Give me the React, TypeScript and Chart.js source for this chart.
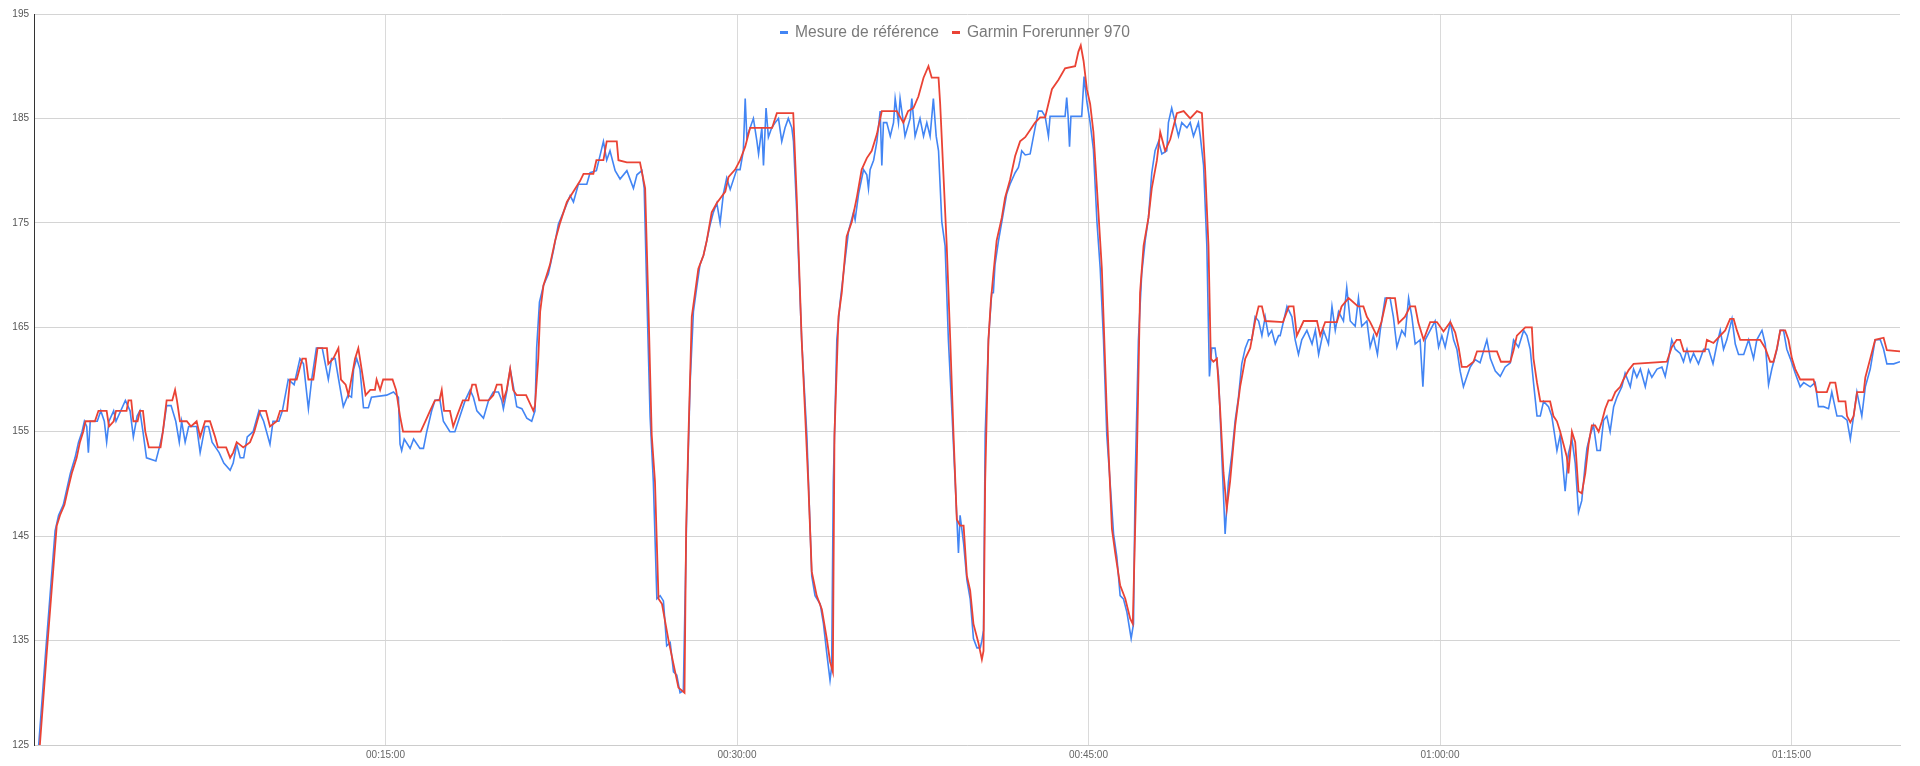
import React, { useEffect, useRef } from 'react';
import { Chart, registerables } from 'chart.js';

Chart.register(...registerables);

// Temps écoulé (minutes) et fréquence cardiaque (bpm)
const referenceMinutes = [
  0.2, 0.5, 0.9, 1.05, 1.25, 1.4, 1.55, 1.75, 1.9, 2.05, 2.15, 2.25, 2.32, 2.4, 2.7, 2.85, 3.0, 3.1, 3.2, 3.4,
  3.5, 3.9, 4.1, 4.24, 4.4, 4.52, 4.65, 4.8, 5.2, 5.35, 5.5, 5.66, 5.85, 6.05, 6.2, 6.3, 6.45, 6.6, 6.94, 7.09,
  7.3, 7.45, 7.6, 7.9, 8.1, 8.37, 8.5, 8.65, 8.8, 8.95, 9.1, 9.35, 9.6, 9.8, 10.07, 10.2, 10.45, 10.6, 10.85, 11.1,
  11.35, 11.5, 11.71, 11.85, 12.05, 12.3, 12.56, 12.7, 12.85, 13.0, 13.2, 13.4,
  13.55, 13.64, 13.77, 13.91, 14.06, 14.27, 14.4, 15.05, 15.34, 15.55, 15.62, 15.69, 15.8, 16.05, 16.2, 16.47, 16.62, 16.76,
  16.97, 17.11, 17.32, 17.47, 17.75, 17.96, 18.18, 18.4, 18.61, 18.75, 18.9, 19.18, 19.4, 19.6, 19.82, 19.96, 20.03, 20.17,
  20.32, 20.46, 20.6, 20.82, 21.03, 21.24, 21.38, 21.45, 21.57, 21.74, 21.95, 22.17, 22.38, 22.59, 22.88, 23.02, 23.23, 23.59,
  23.73, 24.0, 24.3, 24.44, 24.58, 24.8, 25.01, 25.3, 25.58, 25.73, 25.94, 26.04, 26.15, 26.29, 26.43, 26.58,
  26.72, 26.86, 27.0, 27.15, 27.29, 27.43, 27.57, 27.71, 27.86, 28.0, 28.14, 28.28, 28.42, 28.57, 28.71, 28.85, 28.99, 29.14,
  29.28, 29.42, 29.56, 29.71, 29.99, 30.13, 30.27, 30.35, 30.42, 30.56, 30.7, 30.85, 30.92, 31.06, 31.13, 31.24, 31.34, 31.48,
  31.63, 31.77, 31.91, 32.05, 32.19, 32.34, 32.41, 32.55, 32.76, 32.98, 33.12, 33.19, 33.33, 33.55, 33.69, 33.83, 33.97, 34.04,
  34.11, 34.26, 34.4, 34.54, 34.76, 34.97, 35.04, 35.19, 35.4, 35.54, 35.61, 35.68, 35.83, 35.97, 36.11, 36.18, 36.25, 36.39,
  36.54, 36.68, 36.75, 36.89, 36.96, 37.1, 37.17, 37.39, 37.46, 37.6, 37.81, 37.96, 38.1, 38.24, 38.38, 38.5, 38.6, 38.74,
  38.88, 39.02, 39.17, 39.31, 39.45, 39.52,
  39.67, 39.81, 39.95, 40.09, 40.24, 40.38, 40.45, 40.52, 40.59, 40.73, 40.87, 40.94, 41.01, 41.16, 41.3, 41.37, 41.51, 41.65,
  41.87, 42.01, 42.08, 42.15, 42.3, 42.51, 42.72, 42.86, 43.01, 43.15, 43.29, 43.36, 44.0, 44.07, 44.13, 44.19, 44.25, 44.64,
  44.71, 44.81, 44.93, 45.07, 45.21, 45.36, 45.5, 45.64, 45.78, 45.92, 46.07, 46.21, 46.35, 46.49, 46.64, 46.82, 46.92, 46.99,
  47.13, 47.27, 47.42, 47.56, 47.7, 47.84, 47.99, 48.13, 48.34, 48.41, 48.55, 48.7, 48.84, 48.98, 49.2, 49.34, 49.48, 49.69,
  49.77, 49.91, 50.05, 50.16, 50.26, 50.4, 50.55, 50.69, 50.83, 50.97, 51.12, 51.26, 51.4, 51.54, 51.69, 51.83, 51.97, 52.11,
  52.26, 52.4, 52.54, 52.68, 52.82, 52.97, 53.11,
  53.18, 53.47, 53.68, 53.82, 53.96, 54.1, 54.32, 54.54, 54.68, 54.82, 55.03, 55.24, 55.39, 55.53, 55.67, 55.88, 56.02, 56.17,
  56.38, 56.52, 56.66, 56.88, 57.02, 57.16, 57.33, 57.45, 57.66, 57.87, 58.01, 58.16, 58.37, 58.51, 58.66, 58.8, 58.94, 59.15,
  59.27, 59.37, 59.58, 59.79, 59.94, 60.08, 60.22, 60.44, 60.58, 60.72, 60.86, 61.0, 61.15, 61.29, 61.5, 61.71, 62.0, 62.15,
  62.36, 62.57, 62.78, 63.0, 63.14, 63.35, 63.57, 63.71, 63.85, 63.99, 64.14, 64.28, 64.42, 64.63, 64.77, 64.92, 64.99, 65.13,
  65.34, 65.48, 65.63, 65.77, 65.91, 66.05, 66.2,
  66.27, 66.41, 66.55, 66.7, 66.84, 66.98, 67.12, 67.26, 67.41, 67.55, 67.76, 67.9, 68.12, 68.26, 68.4, 68.55, 68.76, 68.9,
  69.04, 69.26, 69.47, 69.61, 69.75, 69.89, 70.04, 70.25, 70.39, 70.54, 70.68, 70.82, 71.03, 71.25, 71.46, 71.65, 71.82, 71.96,
  72.1, 72.24, 72.46, 72.6, 72.74, 72.96, 73.17, 73.38, 73.52, 73.74, 73.88, 74.02, 74.16, 74.38, 74.52, 74.66, 74.8, 74.95,
  75.16, 75.37, 75.52, 75.8, 76.01, 76.15, 76.37, 76.58, 76.72, 76.94, 77.15, 77.37, 77.51, 77.65, 77.79, 78.0, 78.15, 78.36,
  78.57, 78.79, 78.93, 79.07, 79.36, 79.63,
];
const referenceBpm = [
  125, 134, 145.5, 147, 148, 149.5, 151, 152.5, 154, 155, 156, 155.5, 153, 156, 156, 157, 156, 154, 156, 157,
  156, 158, 157, 154.5, 156.5, 157, 155, 152.5, 152.2, 153.5, 155, 157.5, 157.5, 156, 154, 156, 154, 155.5, 155.5, 153,
  155.5, 155.5, 154, 153, 152, 151.3, 152, 153.8, 152.5, 152.5, 154.5, 155, 157, 156, 153.8, 156, 156, 157, 160, 159.5,
  162, 161.5, 157.2, 160, 163, 163, 160, 162, 162, 160, 157.4, 158.5,
  158.3, 161, 162, 161, 157.3, 157.3, 158.3, 158.5, 158.8, 158.3, 153.8, 153.2, 154.3, 153.4, 154.3, 153.4, 153.4, 155,
  157, 158, 158.1, 156, 155, 155, 156.5, 158, 159, 158.3, 157, 156.3, 158, 158.8, 158.8, 158, 157.2, 158.8,
  161, 159.3, 157.4, 157.2, 156.3, 156, 157, 163, 167.4, 169, 170.1, 172.4, 174.9, 176, 177.6, 177, 178.7, 178.7,
  179.8, 180, 182.8, 181, 181.9, 180, 179.2, 180, 178.3, 179.6, 180, 178.3, 168.3, 156.5, 150.2, 139,
  139.3, 138.8, 134.5, 134.8, 132, 131.7, 130, 130.2, 148, 159.7, 166.5, 168.8, 171, 171.9, 173.3, 174.8, 176, 176.9,
  175, 177.8, 179.3, 178.2, 180.1, 180.1, 181.9, 186.9, 183.2, 184.1, 185, 182.8, 181.6, 184.1, 180.5, 186, 183.2, 184.1,
  184.6, 185, 182.8, 184.1, 185, 184.1, 182.8, 176, 163.8, 154.7, 145.7, 141.2, 139.3, 138.5, 136.6, 133.8, 131.2, 132.5,
  150.2, 163.8, 167.4, 170.1, 174.2, 176, 175.3, 177.8, 180.1, 179.6, 178.3, 180.1, 181, 182.8, 185.7, 180.5, 184.6, 184.6,
  183.3, 184.6, 186.9, 184.6, 186.9, 184.6, 183.3, 185, 186.9, 183.3, 185, 183.3, 184.6, 183.3, 186.9, 183.3, 181.9, 175.1,
  172.8, 163.8, 157, 150.2, 143.4, 147,
  144.3, 140.8, 139, 135.2, 134.3, 134.3, 135, 136, 154.7, 163.8, 168.3, 168.3, 171, 173.3, 175.1, 176, 177.8, 178.7,
  179.8, 180.3, 181, 181.9, 181.5, 181.6, 184.1, 185.7, 185.7, 185.2, 183.3, 185.2, 185.2, 187, 185.2, 182.3, 185.2, 185.2,
  185.2, 189, 186.6, 184.6, 182, 175.1, 170.6, 163.8, 154.7, 150.2, 145.2, 143, 139.3, 139, 137.7, 135.2, 136.6, 150.2,
  163.8, 170.1, 173.3, 175.5, 179.8, 181.9, 182.8, 181.6, 181.9, 184.6, 186, 184.6, 183.3, 184.6, 184.1, 184.6, 183.3, 184.6,
  183.3, 180.5, 172.8, 160.3, 163, 163, 160.3, 152.6, 145.2, 150.2, 152.9, 156.1, 158.3, 161.5, 163, 163.8, 163.8, 166,
  165.6, 164.2, 166, 164.2, 164.7, 163.4, 164.2,
  164.2, 167, 166, 163.8, 162.4, 163.8, 164.7, 163.4, 164.7, 162.4, 164.7, 163.4, 167, 164.7, 166.5, 165.6, 168.8, 165.6,
  165.1, 167.8, 165.1, 165.6, 163.1, 164.2, 162.4, 164.7, 167.8, 167.8, 166, 163.1, 164.7, 164.2, 167.8, 166, 163.4, 163.8,
  159.3, 163.8, 164.7, 165.6, 163.1, 164.2, 163.1, 165.5, 163.8, 162.9, 160.8, 159.3, 160.3, 161.2, 161.9, 161.6, 163.8, 162,
  160.8, 160.3, 161.2, 161.6, 163.8, 163.1, 164.7, 164.2, 162.9, 159.7, 156.5, 156.5, 157.9, 157.4, 156.5, 154.3, 153.2, 154.7,
  149.3, 152.9, 154.3, 152, 147.3, 148.4, 152,
  153.4, 154.7, 155.6, 153.2, 153.2, 156.1, 156.5, 155, 157.4, 158.3, 159.3, 160.6, 159.3, 161, 160.2, 161, 159.3, 160.9,
  160.2, 161, 161.2, 160.3, 161.9, 163.8, 162.9, 162.5, 161.7, 162.9, 161.7, 162.5, 161.5, 162.9, 162.9, 161.5, 163.4, 164.7,
  162.9, 163.8, 165.8, 163.4, 162.4, 162.4, 163.8, 162, 163.8, 164.7, 163.4, 159.5, 161, 162.9, 164.7, 164.7, 162.9, 162,
  160.6, 159.3, 159.7, 159.3, 159.7, 157.4, 157.4, 157.2, 158.8, 156.5, 156.5, 156.1, 154.3, 156.5, 158.8, 156.5, 159.3, 161,
  163.8, 163.8, 162.9, 161.5, 161.5, 161.7,
];

const garminMinutes = [
  0.25, 0.55, 0.97, 1.11, 1.3, 1.45, 1.61, 1.82, 1.96, 2.1, 2.2, 2.6, 2.75, 3.1, 3.2, 3.4, 3.5, 3.95, 4.03, 4.15,
  4.24, 4.42, 4.52, 4.65, 4.75, 4.9, 5.4, 5.5, 5.66, 5.9, 6.02, 6.1, 6.23, 6.52, 6.7, 6.94, 7.09, 7.3, 7.51, 7.73,
  7.85, 8.2, 8.37, 8.5, 8.65, 8.93, 9.22, 9.4, 9.65, 9.9, 10.07, 10.36, 10.5, 10.8, 10.93, 11.21, 11.45, 11.6, 11.71, 11.92,
  12.1, 12.5, 12.56, 12.77, 12.99, 13.1, 13.3, 13.42,
  13.7, 13.84, 13.98, 14.15, 14.35, 14.55, 14.62, 14.77, 14.9, 15.3, 15.45, 15.62, 15.75, 16.5, 16.7, 16.9, 17.11, 17.3,
  17.4, 17.5, 17.75, 17.89, 18.05, 18.3, 18.54, 18.7, 18.85, 19.0, 19.4, 19.6, 19.75, 19.95, 20.03, 20.17, 20.32, 20.45,
  20.6, 21.0, 21.31, 21.38, 21.52, 21.6, 21.74, 21.88, 22.02, 22.24, 22.45, 22.74, 23.02, 23.3, 23.45, 23.87, 24.0, 24.3,
  24.44, 24.87, 24.94, 25.3, 25.86, 26.08, 26.22, 26.36, 26.5, 26.65,
  26.8, 27.08, 27.36, 27.5, 27.76, 27.83, 27.93, 28.07, 28.21, 28.35, 28.57, 28.71, 28.92, 29.14, 29.5, 29.64, 29.92, 30.13,
  30.35, 30.56, 31.5, 31.7, 32.4, 32.55, 32.76, 32.9, 33.04, 33.19, 33.4, 33.62, 33.83, 33.97, 34.09, 34.16, 34.33, 34.47,
  34.68, 34.9, 35.11, 35.32, 35.54, 35.75, 35.97, 36.18, 36.82, 37.1, 37.3, 37.53, 37.74, 37.96, 38.17, 38.31, 38.6, 38.67,
  38.81, 38.95, 39.1, 39.24, 39.38, 39.52, 39.67,
  39.81, 39.95, 40.09, 40.3, 40.45, 40.52, 40.59, 40.73, 40.83, 40.94, 41.08, 41.3, 41.44, 41.65, 41.87, 42.08, 42.3, 42.51,
  42.72, 42.94, 43.15, 43.29, 43.44, 43.72, 44.0, 44.43, 44.57, 44.67, 44.79, 44.93, 45.07, 45.21, 45.36, 45.57, 45.78, 46.0,
  46.14, 46.35, 46.57, 46.78, 46.89, 47.06, 47.2, 47.35, 47.56, 47.7, 47.92, 48.06, 48.27, 48.49, 48.77, 49.06, 49.34, 49.63,
  49.84, 49.98, 50.12, 50.22, 50.33, 50.48, 50.62, 50.76, 50.9, 51.04, 51.26, 51.47, 51.69, 51.9, 52.11, 52.26, 52.4, 52.54,
  53.3, 53.55, 53.75, 53.89, 54.18, 54.75, 54.89, 55.1, 55.6, 55.8, 56.1, 56.5, 56.73, 56.88, 57.02, 57.3, 57.5, 57.73,
  58.08, 58.23, 58.5, 58.73, 58.94, 59.08, 59.3, 59.58, 59.87, 60.15, 60.44, 60.65, 60.8, 60.93, 61.15, 61.43, 61.58, 62.43,
  62.6, 63.0, 63.14, 63.28, 63.64, 63.92, 63.99, 64.14, 64.28, 64.7, 64.84, 64.99, 65.13, 65.41, 65.48, 65.63, 65.77, 65.91,
  66.05, 66.2, 66.34,
  66.48, 66.62, 66.77, 66.91, 67.05, 67.19, 67.33, 67.48, 67.69, 67.83, 68.05, 68.26, 69.68, 69.89, 70.1, 70.25, 70.4, 71.3,
  71.39, 71.67, 71.96, 72.17, 72.38, 72.53, 72.67, 72.81, 73.66, 73.88, 74.09, 74.23, 74.38, 74.52, 74.73, 74.87, 75.02, 75.16,
  75.37, 75.94, 76.08, 76.51, 76.65, 76.87, 77.01, 77.3, 77.37, 77.51, 77.65, 77.8, 78.08, 78.15, 78.36, 78.57, 78.93, 79.07,
  79.63,
];
const garminBpm = [
  125, 134, 146, 147, 148, 149.5, 151, 152.5, 154, 155, 156, 156, 157, 157, 155.5, 156, 157, 157, 158, 158,
  156, 156, 157, 157, 155, 153.5, 153.5, 155, 158, 158, 159, 158, 156, 156, 155.5, 156, 154.5, 156, 156, 154.5,
  153.5, 153.5, 152.5, 153, 154, 153.5, 154, 155, 157, 157, 155.5, 156, 157, 157, 160, 160, 162, 162, 160, 160,
  163, 163, 161.5, 162, 163, 160, 159.5, 158.5,
  162, 163, 161, 158.5, 159, 159, 160, 159, 160, 160, 159, 156.5, 155, 155, 156, 157, 158, 158,
  159, 157, 157, 155.5, 156.5, 158, 158, 159.5, 159.5, 158, 158, 158.5, 159.5, 159.5, 158, 159, 161, 159,
  158.5, 158.5, 157, 157.5, 162, 166.5, 169, 170, 171, 173.3, 175, 177, 178, 179, 179.7, 179.7, 181, 181,
  182.8, 182.8, 181, 180.8, 180.8, 178.3, 167, 154.7, 150.2, 139,
  138.5, 135, 132, 130.5, 130, 145.7, 154.7, 166, 168.3, 170.6, 171.9, 173.3, 176, 176.9, 178, 179.4, 180.1, 181,
  182.3, 184.1, 184.1, 185.5, 185.5, 177.4, 163.8, 157, 150.2, 141.6, 139.3, 138, 135.2, 133, 132, 154.7, 166, 168.3,
  173.7, 175.1, 177.4, 180.1, 181.2, 181.9, 183.5, 185.7, 185.7, 184.6, 185.7, 186, 187.1, 188.9, 190, 188.9, 188.9, 186.4,
  179.6, 172.8, 163.8, 154.7, 146.6, 146, 146,
  141.2, 139.8, 136.6, 134.8, 133.2, 134, 150.2, 163.8, 167.4, 170.1, 173.3, 175.5, 177.4, 179.1, 181.4, 182.8, 183.2, 183.9,
  184.6, 185.1, 185.1, 186.4, 187.8, 188.7, 189.8, 190, 191.4, 192, 190.5, 187.8, 186.4, 183.7, 178.3, 170.6, 157, 145.7,
  143.4, 140.3, 139, 137.1, 136.6, 152, 168.3, 172.8, 175.5, 178.3, 181, 183.7, 181.9, 183, 185.5, 185.7, 185, 185.7,
  185.5, 180, 172.8, 162, 161.7, 162, 157, 151.1, 147.6, 150.2, 155.6, 159.3, 162, 163, 165.6, 167, 167, 165.6,
  165.5, 167, 167, 164.2, 165.6, 165.6, 164.2, 165.5, 165.5, 167, 167.8, 167, 167, 166, 165.5, 164.2, 165.5, 167.8,
  167.8, 165.4, 166, 167, 167, 165.4, 163.8, 165.5, 165.5, 164.6, 165.5, 164.5, 163, 161.2, 161.2, 161.7, 162.7, 162.7,
  161.7, 161.7, 162.8, 164.2, 165, 165, 162, 159.7, 157.9, 157.9, 156.5, 156, 155, 152.6, 151, 155, 154, 149.3,
  149.1, 151, 153.8,
  155.6, 155.6, 155, 156, 157.2, 158, 158, 158.8, 159.3, 160, 160.9, 161.5, 161.7, 163.1, 163.8, 163.8, 162.7, 162.7,
  163.8, 163.5, 164.2, 164.7, 165.8, 165.8, 164.7, 163.8, 163.8, 163, 161.7, 161.7, 163, 164.7, 164.7, 163.8, 162, 161,
  160, 160, 158.8, 158.8, 159.7, 159.7, 157.9, 157.9, 156.5, 155.9, 156.5, 158.8, 158.8, 160.2, 162, 163.8, 164, 162.8,
  162.7,
];

const seriesLabels = ['Mesure de référence', 'Garmin Forerunner 970'];
const seriesColors = ['#4285f4', '#ea4335'];

const xTickMinutes = [15, 30, 45, 60, 75];
const xMaxMinutes = 79.63;
const yMin = 125;
const yMax = 195;
const yStep = 10;

const FONT = '"Liberation Sans", Arial, sans-serif';

const formatClock = (minutes: number) => {
  const total = Math.round(minutes * 60);
  const h = Math.floor(total / 3600);
  const m = Math.floor((total % 3600) / 60);
  const s = total % 60;
  const pad = (n: number) => String(n).padStart(2, '0');
  return `${pad(h)}:${pad(m)}:${pad(s)}`;
};

const toPoints = (xs: number[], ys: number[]) => xs.map((x, i) => ({ x, y: ys[i] }));

export default function App() {
  const chartRef = useRef<HTMLCanvasElement>(null);
  const chartInstanceRef = useRef<Chart | null>(null);

  useEffect(() => {
    if (!chartRef.current) return;
    if (chartInstanceRef.current) {
      chartInstanceRef.current.destroy();
    }
    const ctx = chartRef.current.getContext('2d');
    if (!ctx) return;

    chartInstanceRef.current = new Chart(ctx, {
      type: 'line',
      data: {
        datasets: [
          {
            label: seriesLabels[0],
            data: toPoints(referenceMinutes, referenceBpm),
            borderColor: seriesColors[0],
            backgroundColor: seriesColors[0],
            borderWidth: 1.6,
            pointRadius: 0,
            tension: 0,
            order: 1,
          },
          {
            label: seriesLabels[1],
            data: toPoints(garminMinutes, garminBpm),
            borderColor: seriesColors[1],
            backgroundColor: seriesColors[1],
            borderWidth: 1.8,
            pointRadius: 0,
            tension: 0,
            order: 0,
          },
        ],
      },
      options: {
        responsive: true,
        maintainAspectRatio: false,
        animation: false,
        layout: {
          padding: { top: 14, right: 20, left: 0, bottom: 0 },
        },
        plugins: {
          tooltip: { enabled: false },
          legend: { display: false },
        },
        scales: {
          x: {
            type: 'linear' as const,
            min: 0,
            max: xMaxMinutes,
            afterBuildTicks: (scale: any) => {
              scale.ticks = xTickMinutes.map(value => ({ value }));
            },
            afterFit: (scale: any) => {
              scale.height = 21;
            },
            ticks: {
              color: '#666',
              padding: 4,
              maxRotation: 0,
              autoSkip: false,
              font: { family: FONT, size: 10 },
              callback: (value: any) => formatClock(Number(value)),
            },
            grid: { color: '#dadada', drawTicks: false },
            border: { color: '#cccccc' },
          },
          y: {
            type: 'linear' as const,
            min: yMin,
            max: yMax,
            afterFit: (scale: any) => {
              scale.width = 34;
            },
            ticks: {
              stepSize: yStep,
              color: '#555',
              padding: 5,
              font: { family: FONT, size: 10 },
            },
            grid: { color: '#d4d4d4', drawTicks: false },
            border: { color: '#333333', width: 1 },
          },
        },
      },
    });

    return () => {
      if (chartInstanceRef.current) {
        chartInstanceRef.current.destroy();
        chartInstanceRef.current = null;
      }
    };
  }, []);

  return (
    <div style={{ position: 'fixed', left: 0, top: 0, width: 1920, height: 766, background: '#fff' }}>
      <canvas ref={chartRef} />
      <div
        style={{
          position: 'absolute',
          left: 780,
          top: 22,
          height: 20,
          display: 'flex',
          alignItems: 'center',
          fontFamily: FONT,
          fontSize: 15.6,
          lineHeight: '20px',
          color: '#7a7a7a',
          whiteSpace: 'nowrap',
        }}
      >
        {seriesLabels.map((label, i) => (
          <span key={label} style={{ display: 'flex', alignItems: 'center', marginRight: i === 0 ? 13 : 0 }}>
            <span style={{ display: 'inline-block', width: 8, height: 3, background: seriesColors[i], marginRight: 7 }} />
            <span>{label}</span>
          </span>
        ))}
      </div>
    </div>
  );
}
